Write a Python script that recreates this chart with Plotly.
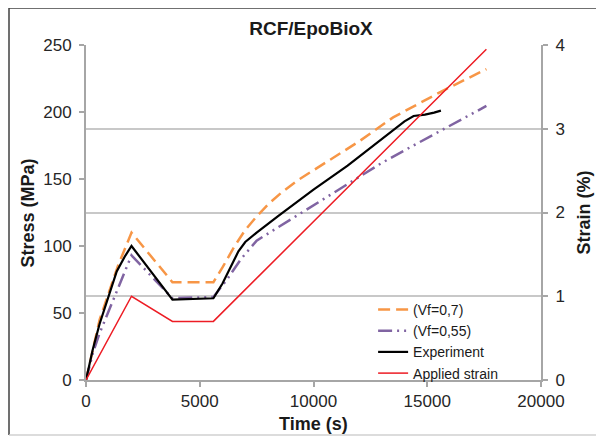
import plotly.graph_objects as go

# stress curves (MPa) vs time (s)
time_vf07 = [0, 600, 1400, 2000, 3800, 5600, 6000, 6500, 7000, 7500, 8000, 8600,
             9300, 10700, 12000, 13500, 15700, 17600]
stress_vf07 = [0, 45, 85, 110, 73, 73, 84, 99, 112, 122, 131, 140,
               149, 164, 178, 196, 216, 232]

time_vf055 = [0, 300, 600, 1200, 1800, 2000, 3800, 5600, 6200, 6800, 7500, 8500,
              10000, 11500, 13000, 14500, 16000, 17600]
stress_vf055 = [0, 20, 35, 60, 84, 93, 61, 62, 75, 90, 104, 114.5,
                130, 146, 162, 176, 190, 204.5]

time_exp = [0, 300, 600, 1000, 1350, 1700, 2000, 3800, 5600, 6000, 6400, 6700, 7000,
            7500, 8500, 10000, 11500, 13000, 13500, 14000, 14400, 14900, 15300, 15600]
stress_exp = [0, 23, 42, 63, 81, 92, 100, 60, 61, 72, 86, 96, 103,
              110, 123, 142, 160, 180, 187, 193, 197, 198, 199.5, 201]

# applied strain (%) on the right axis
time_strain = [0, 2000, 3800, 5600, 17600]
strain_applied = [0, 1.0, 0.7, 0.7, 3.95]

time_ticks = [0, 5000, 10000, 15000, 20000]

FONT = "Liberation Sans, Arial, sans-serif"
AXIS_GREY = "#a6a6a6"

# the page body keeps its default 8px margin, so the figure sits at (8, 8)
W, H = 596, 428

fig = go.Figure()
fig.add_trace(go.Scatter(x=time_vf07, y=stress_vf07, mode="lines", name="(Vf=0,7)",
                         line=dict(color="#F79646", width=2.5, dash="12px,6px")))
fig.add_trace(go.Scatter(x=time_vf055, y=stress_vf055, mode="lines", name="(Vf=0,55)",
                         line=dict(color="#8064A2", width=2.5,
                                   dash="14px,5px,2px,5px,2px,5px")))
fig.add_trace(go.Scatter(x=time_exp, y=stress_exp, mode="lines", name="Experiment",
                         line=dict(color="black", width=2.2)))
fig.add_trace(go.Scatter(x=time_strain, y=strain_applied, mode="lines",
                         name="Applied strain", yaxis="y2",
                         line=dict(color="#ED1C24", width=1.5)))

axis_common = dict(showline=True, linecolor=AXIS_GREY, linewidth=2,
                   ticks="outside", tickcolor=AXIS_GREY, ticklen=5, tickwidth=1.5,
                   tickfont=dict(family=FONT, size=17, color="#262626"),
                   zeroline=False)

fig.update_layout(
    width=W, height=H,
    margin=dict(l=78, r=63, t=37, b=56),
    paper_bgcolor="white", plot_bgcolor="white",
    showlegend=True,
    title=dict(text="<b>RCF/EpoBioX</b>", x=0.4945, xref="paper", xanchor="center",
               y=1 - 20 / H, yref="container", yanchor="middle",
               font=dict(family=FONT, size=19, color="#1a1a1a")),
    xaxis=dict(range=[0, 20000], tickvals=time_ticks,
               ticktext=[str(t) for t in time_ticks],
               showgrid=False, **axis_common),
    yaxis=dict(range=[0, 250], dtick=50, showgrid=False, ticklabelstandoff=4,
               **axis_common),
    yaxis2=dict(range=[0, 4], dtick=1, overlaying="y", side="right",
                ticklabelstandoff=4,
                showgrid=True, gridcolor="#c8c8c8", gridwidth=1.5, **axis_common),
    legend=dict(x=0.631, y=0.257, xanchor="left", yanchor="top",
                bgcolor="rgba(0,0,0,0)", itemwidth=30, tracegroupgap=0,
                font=dict(family=FONT, size=14, color="#1a1a1a")),
)

titles = [
    dict(text="<b>Time (s)</b>", x=0.5, y=(380 - 424) / 335, textangle=0),
    dict(text="<b>Stress (MPa)</b>", x=(27 - 86) / 455, y=0.5, textangle=-90),
    dict(text="<b>Strain (%)</b>", x=(583 - 86) / 455, y=0.5, textangle=-90),
]
for t in titles:
    fig.add_annotation(xref="paper", yref="paper", xanchor="center", yanchor="middle",
                       showarrow=False, font=dict(family=FONT, size=18, color="#1a1a1a"),
                       **t)

# outer frame of the original figure
x_left = (9 - 86) / 455
y_top = (380 - 8) / 335
y_bot = (380 - 435) / 335
x_right = (606 - 86) / 455
fig.add_shape(type="line", xref="paper", yref="paper", x0=x_left, x1=x_left,
              y0=y_bot, y1=y_top, line=dict(color="#404040", width=1.5))
fig.add_shape(type="line", xref="paper", yref="paper", x0=x_left, x1=x_right,
              y0=y_top, y1=y_top, line=dict(color="#404040", width=1.5))
fig.add_shape(type="line", xref="paper", yref="paper", x0=x_left, x1=x_right,
              y0=y_bot, y1=y_bot, line=dict(color="#d0d0d0", width=1.5))

fig.write_html("out.html")
